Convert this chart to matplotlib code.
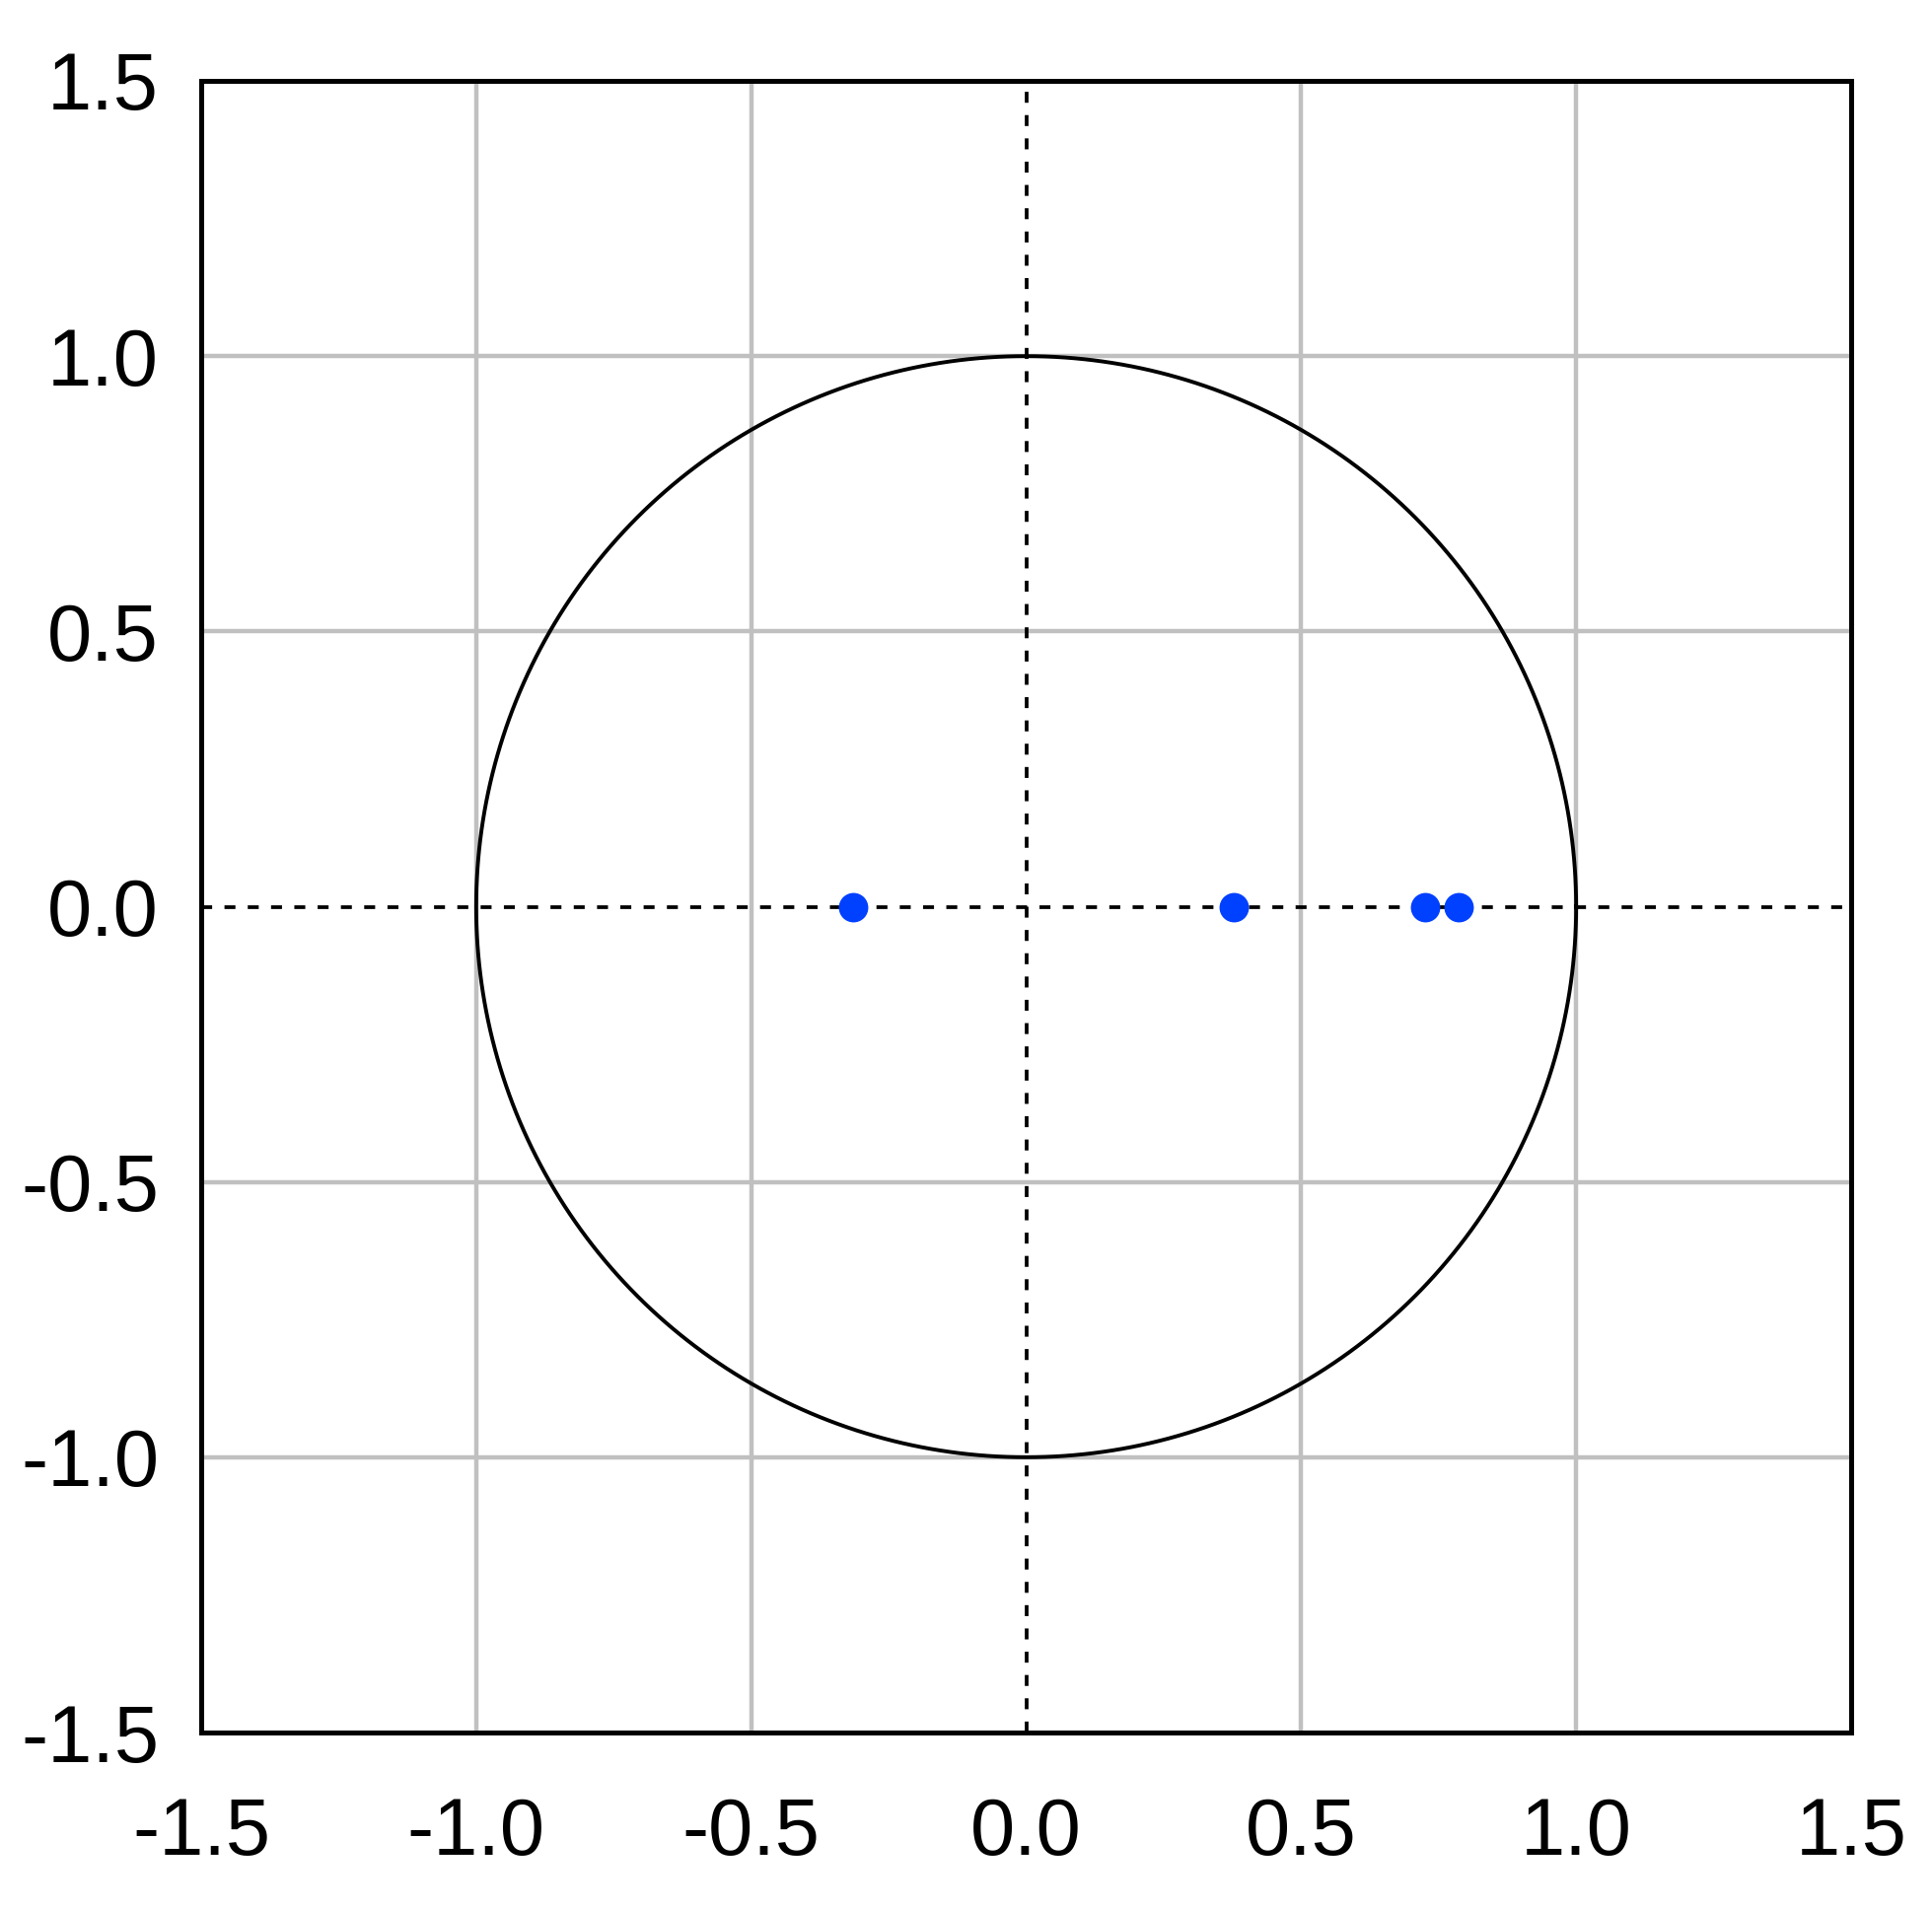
import numpy as np
import matplotlib
matplotlib.use("Agg")
import matplotlib.pyplot as plt

# data
pole_re = [-0.315, 0.378, 0.725, 0.787]
pole_im = [0.0, 0.0, 0.0, 0.0]
ticks = [-1.5, -1.0, -0.5, 0.0, 0.5, 1.0, 1.5]
grid_vals = [-1.0, -0.5, 0.5, 1.0]

plt.rcParams['font.family'] = ['Liberation Sans', 'DejaVu Sans']
plt.rcParams['lines.scale_dashes'] = False

W, H = 1959, 1937
dpi = 100
fig = plt.figure(figsize=(W / dpi, H / dpi), dpi=dpi)
left, right, top, bottom = 204, 1877, 82, 1757
ax = fig.add_axes([left / W, 1 - bottom / H, (right - left) / W, (bottom - top) / H])

ax.set_xlim(-1.5, 1.5)
ax.set_ylim(-1.5, 1.5)

for g in grid_vals:
    ax.axvline(g, color='#c0c0c0', lw=3.2, zorder=1)
    ax.axhline(g, color='#c0c0c0', lw=3.2, zorder=1)

dash = (0, (8, 9))
ax.axhline(0, color='black', lw=2.7, ls=dash, zorder=2)
ax.axvline(0, color='black', lw=2.7, ls=dash, zorder=2)

t = np.linspace(0, 2 * np.pi, 721)
ax.plot(np.cos(t), np.sin(t), color='black', lw=2.8, zorder=3)

ax.plot(pole_re, pole_im, 'o', color='#0040ff', ms=20.5, mec='#0040ff', zorder=4)

ax.set_xticks(ticks)
ax.set_yticks(ticks)
ax.set_xticklabels([f"{v:.1f}" for v in ticks])
ax.set_yticklabels([f"{v:.1f}" for v in ticks])
ax.tick_params(length=0, labelsize=58.5)
ax.tick_params(axis='x', pad=47)
ax.tick_params(axis='y', pad=31)
for s in ax.spines.values():
    s.set_linewidth(3.6)
    s.set_zorder(5)

fig.savefig("out.png", dpi=dpi)
